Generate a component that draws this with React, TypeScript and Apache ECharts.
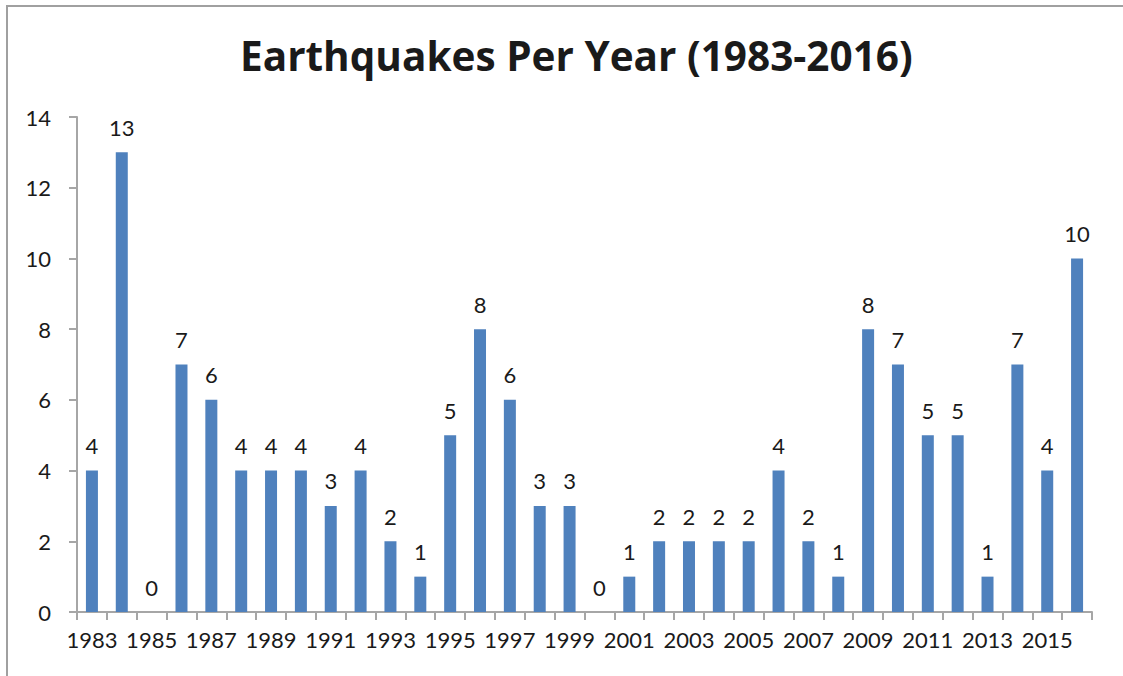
import React, { useEffect, useRef } from "react";
import * as echarts from "echarts";

const years = [
  "1983", "1984", "1985", "1986", "1987", "1988", "1989", "1990", "1991", "1992",
  "1993", "1994", "1995", "1996", "1997", "1998", "1999", "2000", "2001", "2002",
  "2003", "2004", "2005", "2006", "2007", "2008", "2009", "2010", "2011", "2012",
  "2013", "2014", "2015", "2016",
];
const quakes = [
  4, 13, 0, 7, 6, 4, 4, 4, 3, 4,
  2, 1, 5, 8, 6, 3, 3, 0, 1, 2,
  2, 2, 2, 4, 2, 1, 8, 7, 5, 5,
  1, 7, 4, 10,
];
const titleText = "Earthquakes Per Year (1983-2016)";

export default function App() {
  const ref = useRef<HTMLDivElement>(null);
  useEffect(() => {
    if (!ref.current) return;
    const chart = echarts.init(ref.current, undefined, { renderer: "svg" });
    const font = "Lato";
    chart.setOption({
      animation: false,
      backgroundColor: "#ffffff",
      title: {
        text: titleText,
        left: 235,
        top: 30,
        textStyle: { fontFamily: "Open Sans", fontWeight: "bold", fontSize: 40.5, color: "#1a1a1a" },
      },
      graphic: [
        {
          type: "rect",
          shape: { x: 7, y: 6, width: 1200, height: 800 },
          style: { fill: "none", stroke: "#a0a0a0", lineWidth: 2 },
          silent: true,
        },
      ],
      grid: { left: 77, right: 31, top: 117, bottom: 64, containLabel: false },
      xAxis: {
        type: "category",
        data: years,
        axisLine: { show: true, lineStyle: { color: "#a6a6a6", width: 2 } },
        axisTick: { show: true, alignWithLabel: false, interval: 0, length: 8, lineStyle: { color: "#a6a6a6", width: 2 } },
        axisLabel: { interval: 1, fontFamily: font, fontSize: 22, color: "#1a1a1a", margin: 16 },
        splitLine: { show: false },
      },
      yAxis: {
        type: "value",
        min: 0,
        max: 14,
        interval: 2,
        axisLine: { show: true, lineStyle: { color: "#a6a6a6", width: 2 } },
        axisTick: { show: true, length: 8, lineStyle: { color: "#a6a6a6", width: 2 } },
        axisLabel: { fontFamily: font, fontSize: 22, color: "#1a1a1a", margin: 26 },
        splitLine: { show: false },
      },
      series: [
        {
          type: "bar",
          data: quakes,
          barWidth: 12,
          itemStyle: { color: "#4f81bd" },
          label: {
            show: true,
            position: "top",
            distance: 14,
            fontFamily: font,
            fontSize: 22,
            color: "#1a1a1a",
          },
        },
      ],
    });
    return () => chart.dispose();
  }, []);
  return (
    <div
      ref={ref}
      style={{ position: "fixed", left: 0, top: 0, width: 1123, height: 676 }}
    />
  );
}
